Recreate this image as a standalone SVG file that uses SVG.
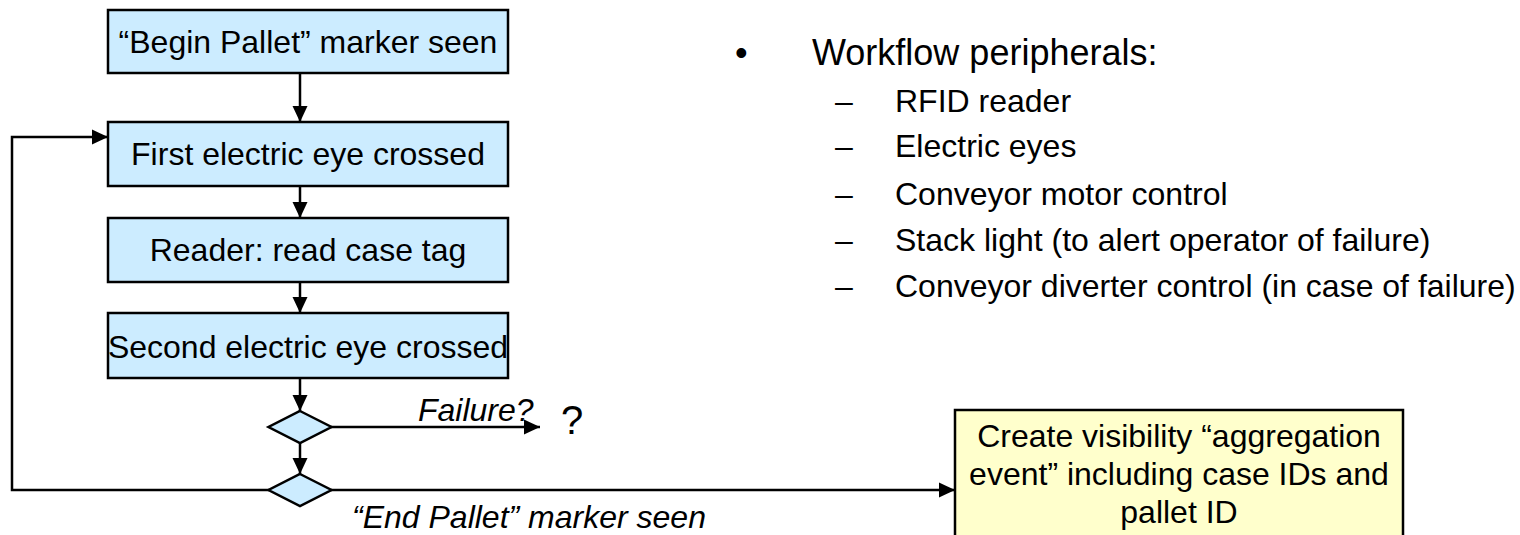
<svg xmlns="http://www.w3.org/2000/svg" width="1520" height="535" viewBox="0 0 1520 535">
<defs>
<style>
.box{fill:#CCECFF;stroke:#000;stroke-width:2.5}
.note{fill:#FFFFCC;stroke:#000;stroke-width:2.5}
.t{font-family:"Liberation Sans",Arial,sans-serif;font-size:32px;fill:#000}
.c{text-anchor:middle}
.i{font-style:italic}
.conn{fill:none;stroke:#000;stroke-width:2.5}
</style>
<marker id="ah" markerUnits="userSpaceOnUse" markerWidth="16" markerHeight="16" viewBox="0 0 16 16" refX="16" refY="8" orient="auto">
<path d="M0,0.5 L16,8 L0,15.5 Z" fill="#000"/>
</marker>
</defs>
<rect width="1520" height="535" fill="#fff"/>

<g id="connectors">
<line class="conn" x1="300" y1="73" x2="300" y2="122" marker-end="url(#ah)"/>
<line class="conn" x1="300" y1="186" x2="300" y2="218" marker-end="url(#ah)"/>
<line class="conn" x1="300" y1="282" x2="300" y2="313" marker-end="url(#ah)"/>
<line class="conn" x1="300" y1="378" x2="300" y2="411" marker-end="url(#ah)"/>
<line class="conn" x1="300" y1="443" x2="300" y2="474" marker-end="url(#ah)"/>
<line class="conn" x1="331" y1="427" x2="540" y2="427" marker-end="url(#ah)"/>
<polyline class="conn" points="269,490 12,490 12,137 108,137" marker-end="url(#ah)"/>
<line class="conn" x1="331" y1="490" x2="955" y2="490" marker-end="url(#ah)"/>
</g>

<g id="begin">
<rect class="box" x="108" y="10" width="400" height="63"/>
<text class="t c" x="308" y="53">“Begin Pallet” marker seen</text>
</g>
<g id="first-eye">
<rect class="box" x="108" y="122" width="400" height="64"/>
<text class="t c" x="308" y="165">First electric eye crossed</text>
</g>
<g id="reader">
<rect class="box" x="108" y="218" width="400" height="64"/>
<text class="t c" x="308" y="261">Reader: read case tag</text>
</g>
<g id="second-eye">
<rect class="box" x="108" y="313" width="400" height="65"/>
<text class="t c" x="308" y="358">Second electric eye crossed</text>
</g>
<g id="failure-decision">
<polygon class="box" points="300,411 331.5,427 300,443 268.5,427"/>
<text class="t i" x="418" y="421">Failure?</text>
<text class="t" x="561" y="434" style="font-size:40px">?</text>
</g>
<g id="end-decision">
<polygon class="box" points="300,474 331.5,490 300,506 268.5,490"/>
<text class="t i" x="352" y="528">“End Pallet” marker seen</text>
</g>
<g id="aggregation">
<rect class="note" x="955" y="410" width="448" height="140"/>
<text class="t c" x="1179" y="447">Create visibility “aggregation</text>
<text class="t c" x="1179" y="485">event” including case IDs and</text>
<text class="t c" x="1179" y="523">pallet ID</text>
</g>
<g id="peripherals">
<text class="t" x="735" y="65" style="font-size:36px">•</text>
<text class="t" x="812" y="65" style="font-size:36px">Workflow peripherals:</text>
<text class="t" x="835" y="112">–</text><text class="t" x="895" y="112">RFID reader</text>
<text class="t" x="835" y="157">–</text><text class="t" x="895" y="157">Electric eyes</text>
<text class="t" x="835" y="205">–</text><text class="t" x="895" y="205">Conveyor motor control</text>
<text class="t" x="835" y="251">–</text><text class="t" x="895" y="251">Stack light (to alert operator of failure)</text>
<text class="t" x="835" y="297">–</text><text class="t" x="895" y="297">Conveyor diverter control (in case of failure)</text>
</g>
</svg>
